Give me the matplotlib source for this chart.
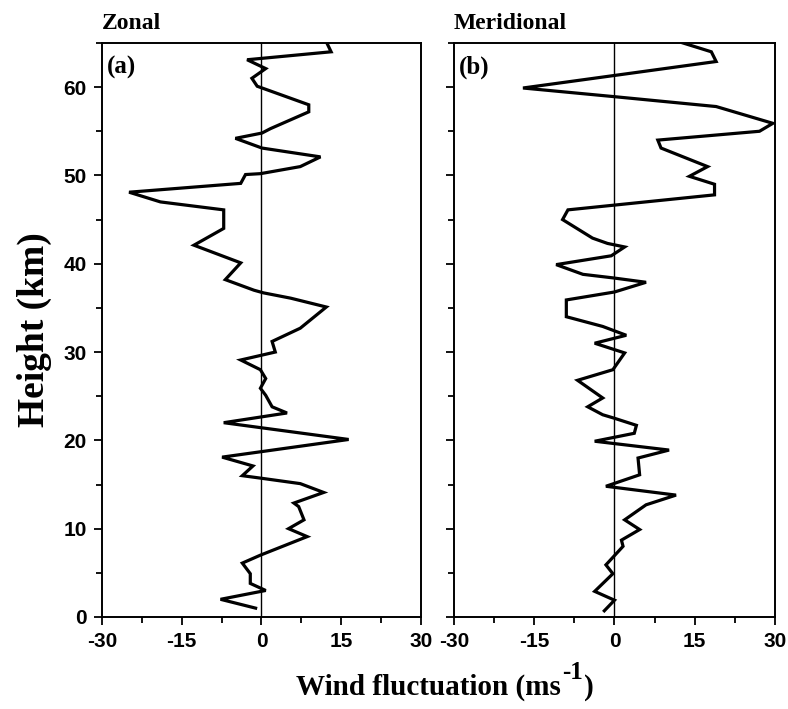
import numpy as np
import matplotlib.pyplot as plt
from matplotlib.ticker import MultipleLocator

plt.rcParams['axes.unicode_minus'] = False

# zonal wind fluctuation profile (m/s) vs height (km)
zonal_h = [65.0, 64.0, 63.1, 62.1, 61.0, 60.1, 58.0, 57.2, 55.3, 54.8, 54.2, 53.1,
           52.1, 51.0, 50.2, 50.1, 49.1, 48.1, 47.0, 46.1, 44.0, 42.1, 40.1, 38.2,
           37.0, 36.7, 36.1, 35.1, 32.7, 31.2, 30.0, 29.1, 28.0, 27.0, 25.9, 25.1,
           23.8, 23.1, 22.0, 20.1, 18.1, 17.1, 16.0, 15.7, 15.1, 14.1, 12.9, 12.5,
           11.0, 10.0, 9.1, 7.0, 6.1, 4.9, 3.8, 3.0, 2.0, 1.0]
zonal_u = [12.3, 13.1, -2.7, 0.8, -1.8, -0.8, 8.9, 8.9, 1.7, 0.1, -4.9, 0.1,
           11.1, 7.3, -0.2, -3.0, -3.9, -24.9, -19.0, -7.1, -7.1, -12.7, -3.9, -6.8,
           -1.4, 0.4, 5.5, 12.2, 7.3, 2.0, 2.6, -3.9, -0.2, 0.8, -0.2, 0.8,
           2.0, 4.8, -7.1, 16.4, -7.4, -1.6, -3.6, 0.1, 7.3, 11.7, 6.1, 7.0,
           8.0, 5.1, 8.6, -0.2, -3.6, -2.1, -2.1, 0.8, -7.7, -1.1]

# meridional wind fluctuation profile
merid_h = [65.0, 64.0, 62.9, 59.9, 58.9, 57.8, 55.9, 55.0, 54.0, 53.1, 51.0, 49.9,
           49.0, 47.8, 46.1, 45.0, 42.9, 42.3, 41.9, 40.9, 39.9, 38.8, 38.4, 37.9,
           36.8, 35.9, 34.0, 32.9, 31.9, 31.0, 29.9, 28.0, 26.8, 24.8, 23.8, 22.9,
           22.5, 21.7, 20.8, 19.9, 18.9, 18.0, 16.1, 14.8, 13.8, 12.7, 11.0, 9.9,
           8.7, 8.0, 5.9, 4.9, 2.9, 1.9, 0.7]
merid_v = [12.8, 18.1, 19.0, -17.1, 0.3, 19.0, 29.6, 27.1, 8.1, 8.7, 17.4, 14.0,
           18.7, 18.7, -8.7, -9.7, -4.1, -1.3, 1.9, -0.6, -10.9, -5.9, -0.3, 5.9,
           0.0, -9.0, -9.0, -2.2, 2.2, -3.7, 1.9, -0.3, -6.9, -2.2, -5.0, -2.2,
           0.0, 4.1, 3.7, -3.7, 10.2, 4.4, 4.7, -1.6, 11.5, 5.9, 1.9, 4.7,
           1.3, 1.6, -1.6, -0.3, -3.7, 0.0, -1.9]

xticks = [-30, -15, 0, 15, 30]
yticks = [0, 10, 20, 30, 40, 50, 60]

tick_font = {'family': ['Liberation Sans Narrow', 'Liberation Sans', 'DejaVu Sans'],
             'weight': 'bold', 'size': 15, 'stretch': 'condensed'}
serif = ['Liberation Serif', 'DejaVu Serif']

fig = plt.figure(figsize=(7.88, 7.09), dpi=100)
ax1 = fig.add_axes([0.1294, 0.1298, 0.4048, 0.8096])
ax2 = fig.add_axes([0.5761, 0.1298, 0.4074, 0.8096])

panels = [(ax1, zonal_u, zonal_h, 'Zonal', '(a)'),
          (ax2, merid_v, merid_h, 'Meridional', '(b)')]

for ax, u, h, title, tag in panels:
    ax.plot(u, h, color='black', lw=2.3, solid_joinstyle='miter')
    ax.axvline(0, color='black', lw=1.0)
    ax.set_xlim(-30, 30)
    ax.set_ylim(0, 65)
    ax.set_xticks(xticks)
    ax.set_yticks(yticks)
    ax.xaxis.set_minor_locator(MultipleLocator(7.5))
    ax.yaxis.set_minor_locator(MultipleLocator(5))
    ax.tick_params(which='both', direction='out', width=1.3, top=False, right=False)
    ax.tick_params(which='major', length=6, pad=5)
    ax.tick_params(which='minor', length=4)
    for sp in ax.spines.values():
        sp.set_linewidth(1.4)
    for lab in ax.get_xticklabels() + ax.get_yticklabels():
        lab.set_fontproperties(tick_font)
    ax.text(0.0, 1.015, title, transform=ax.transAxes, ha='left', va='bottom',
            family=serif, weight='bold', fontsize=17)
    ax.text(0.015, 0.978, tag, transform=ax.transAxes, ha='left', va='top',
            family=serif, weight='bold', fontsize=18)

ax2.set_yticklabels([])

ax1.set_ylabel('Height (km)', family=serif, weight='bold', fontsize=27, labelpad=8)

# x label built from pieces so the superscript stays bold serif
lab_kw = dict(family=serif, weight='bold', fontsize=21, va='baseline')
fig.canvas.draw()
r = fig.canvas.get_renderer()
x0, y0 = 296, 14
t1 = fig.text(x0 / 788, y0 / 709, 'Wind fluctuation (ms', ha='left', **lab_kw)
w1 = t1.get_window_extent(r).width
t2 = fig.text((x0 + w1 + 1) / 788, (y0 + 16) / 709, '-1', ha='left',
              family=serif, weight='bold', fontsize=18, va='baseline')
w2 = t2.get_window_extent(r).width
fig.text((x0 + w1 + w2 + 2) / 788, y0 / 709, ')', ha='left', **lab_kw)

fig.savefig('out.png', dpi=100)
